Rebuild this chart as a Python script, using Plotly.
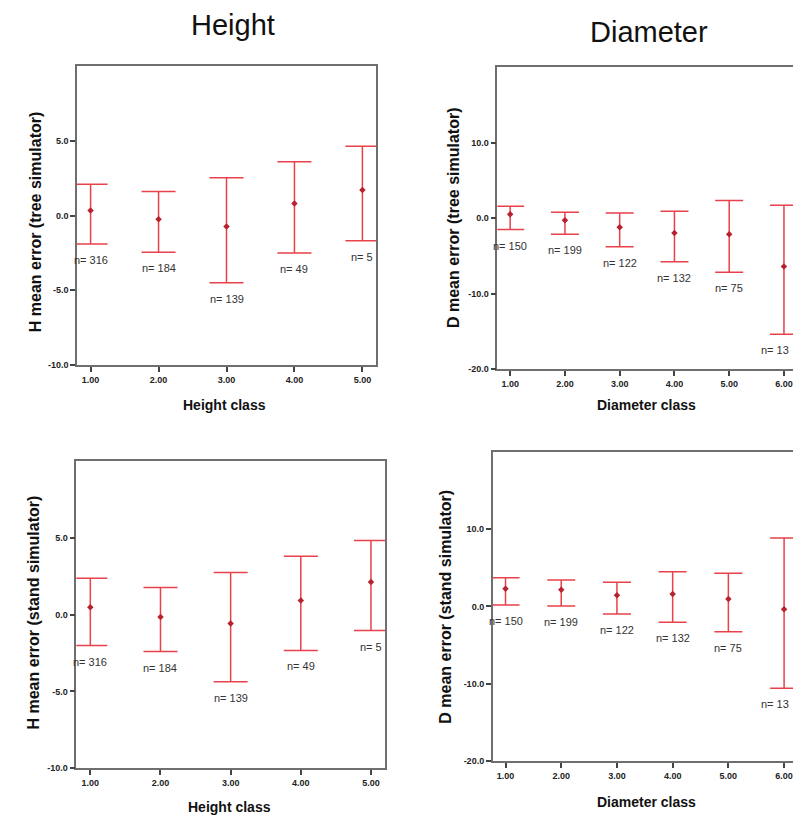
import plotly.graph_objects as go

# ---------------- data ----------------
classes_H = [1, 2, 3, 4, 5]
classes_D = [1, 2, 3, 4, 5, 6]
H_tick_text = ["1.00", "2.00", "3.00", "4.00", "5.00"]
D_tick_text = ["1.00", "2.00", "3.00", "4.00", "5.00", "6.00"]
H_ytick_vals = [-10, -5, 0, 5]
H_ytick_text = ["-10.0", "-5.0", "0.0", "5.0"]
D_ytick_vals = [-20, -10, 0, 10]
D_ytick_text = ["-20.0", "-10.0", "0.0", "10.0"]

H_n = [316, 184, 139, 49, 5]
D_n = [150, 199, 122, 132, 75, 13]

H_tree_mean = [0.33, -0.25, -0.73, 0.80, 1.71]
H_tree_upper = [2.09, 1.60, 2.53, 3.60, 4.64]
H_tree_lower = [-1.91, -2.45, -4.49, -2.51, -1.69]

H_stand_mean = [0.47, -0.16, -0.59, 0.91, 2.12]
H_stand_upper = [2.36, 1.76, 2.73, 3.79, 4.81]
H_stand_lower = [-2.02, -2.41, -4.38, -2.34, -1.04]

D_tree_mean = [0.53, -0.27, -1.20, -1.95, -2.12, -6.37]
D_tree_upper = [1.59, 0.80, 0.71, 0.93, 2.35, 1.73]
D_tree_lower = [-1.50, -2.12, -3.76, -5.75, -7.13, -15.37]

D_stand_mean = [2.29, 2.16, 1.42, 1.60, 0.95, -0.39]
D_stand_upper = [3.71, 3.41, 3.11, 4.49, 4.27, 8.85]
D_stand_lower = [0.17, 0.04, -1.00, -2.07, -3.28, -10.58]

# ---------------- styling ----------------
W, H = 793, 817
FONT = "Liberation Sans"
BAR_COLOR = "#e8414b"
MARK_COLOR = "#b8222e"
AX_COLOR = "#6e6e6e"

def px_x(p):
    return p / W

def px_y(p):
    return 1 - p / H

fig = go.Figure()

panels = [
    # (axis suffix, classes, mean, upper, lower, n, capwidth)
    ("", classes_H, H_tree_mean, H_tree_upper, H_tree_lower, H_n, 17),
    ("2", classes_D, D_tree_mean, D_tree_upper, D_tree_lower, D_n, 14),
    ("3", classes_H, H_stand_mean, H_stand_upper, H_stand_lower, H_n, 17),
    ("4", classes_D, D_stand_mean, D_stand_upper, D_stand_lower, D_n, 14),
]

annotations = []
for suf, xs, mean, up, lo, ns, cap in panels:
    plus = [u - m for u, m in zip(up, mean)]
    minus = [m - l for m, l in zip(mean, lo)]
    fig.add_trace(go.Scatter(
        x=xs, y=mean, mode="markers",
        marker=dict(symbol="diamond", size=5, color=MARK_COLOR),
        error_y=dict(type="data", symmetric=False, array=plus, arrayminus=minus,
                     color=BAR_COLOR, thickness=1.5, width=cap),
        xaxis="x" + suf, yaxis="y" + suf, showlegend=False, hoverinfo="skip",
    ))
    last = len(xs) - 1
    for i, (x, l, n) in enumerate(zip(xs, lo, ns)):
        # keep the right-most label of the diameter panels inside the page
        edge = (len(xs) == 6 and i == last)
        annotations.append(dict(
            x=x, y=l, xref="x" + suf, yref="y" + suf, text=f"n= {n}",
            showarrow=False, yanchor="middle", yshift=-16,
            xanchor="right" if edge else "center", xshift=7 if edge else 0,
            font=dict(family=FONT, size=11, color="#333333"),
        ))

axis_common = dict(showgrid=False, zeroline=False, showline=True, linecolor=AX_COLOR,
                   linewidth=1.5, ticks="outside", ticklen=5, tickcolor="#444444",
                   tickwidth=1.5, automargin=False, ticklabeloverflow="allow",
                   tickfont=dict(family=FONT, size=9, color="#222222", weight="bold"))

layout = dict(
    width=W, height=H, autosize=False,
    margin=dict(l=0, r=0, t=0, b=0, pad=0),
    paper_bgcolor="white", plot_bgcolor="white",
    # top-left: H tree
    xaxis=dict(domain=[px_x(77), px_x(376)], range=[0.8, 5.2], anchor="y",
               tickvals=classes_H, ticktext=H_tick_text, mirror=True, **axis_common),
    yaxis=dict(domain=[px_y(365), px_y(66)], range=[-10, 10], anchor="x",
               tickvals=H_ytick_vals, ticktext=H_ytick_text, mirror=True, **axis_common),
    # top-right: D tree
    xaxis2=dict(domain=[px_x(497.3), 1.0], range=[0.765, 6.165], anchor="y2",
                tickvals=classes_D, ticktext=D_tick_text, mirror=True, **axis_common),
    yaxis2=dict(domain=[px_y(369.3), px_y(67.3)], range=[-20, 20], anchor="x2",
                tickvals=D_ytick_vals, ticktext=D_ytick_text, **axis_common),
    # bottom-left: H stand
    xaxis3=dict(domain=[px_x(76.3), px_x(385)], range=[0.8, 5.2], anchor="y3",
                tickvals=classes_H, ticktext=H_tick_text, mirror=True, **axis_common),
    yaxis3=dict(domain=[px_y(768.3), px_y(460.7)], range=[-10, 10], anchor="x3",
                tickvals=H_ytick_vals, ticktext=H_ytick_text, mirror=True, **axis_common),
    # bottom-right: D stand
    xaxis4=dict(domain=[px_x(492.7), 1.0], range=[0.77, 6.16], anchor="y4",
                tickvals=classes_D, ticktext=D_tick_text, mirror=True, **axis_common),
    yaxis4=dict(domain=[px_y(761), px_y(451.7)], range=[-20, 20], anchor="x4",
                tickvals=D_ytick_vals, ticktext=D_ytick_text, **axis_common),
)

def paper_text(text, x, y, size, bold=False, angle=0):
    return dict(text=text, x=px_x(x), y=px_y(y), xref="paper", yref="paper",
                showarrow=False, xanchor="center", yanchor="middle", textangle=angle,
                font=dict(family=FONT, size=size, color="#111111",
                          weight="bold" if bold else "normal"))

annotations += [
    paper_text("Height", 233, 25, 29),
    paper_text("Diameter", 649, 31.5, 29),
    paper_text("Height class", 224.5, 404.5, 14, bold=True),
    paper_text("Diameter class", 646.7, 405, 14, bold=True),
    paper_text("Height class", 229, 806.5, 14, bold=True),
    paper_text("Diameter class", 646, 801.5, 14, bold=True),
    paper_text("H mean error (tree simulator)", 35.5, 221.7, 16, bold=True, angle=-90),
    paper_text("D mean error (tree simulator)", 453, 218, 16, bold=True, angle=-90),
    paper_text("H mean error (stand simulator)", 32.5, 613, 16, bold=True, angle=-90),
    paper_text("D mean error (stand simulator)", 446, 606.7, 16, bold=True, angle=-90),
]
layout["annotations"] = annotations

fig.update_layout(**layout)
# remove the browser's default 8px body margin so the figure fills the window exactly
fig.write_html("out.html", config={"displayModeBar": False},
               post_script="document.body.style.margin='0';document.body.style.overflow='hidden';")
